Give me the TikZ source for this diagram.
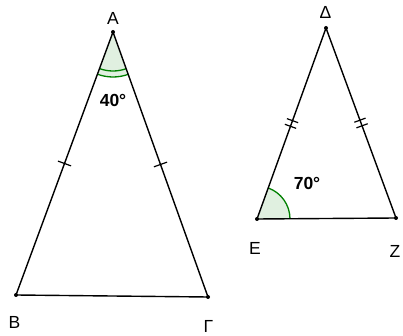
\documentclass[tikz,border=0pt]{standalone}
\usepackage{fontspec}
\setmainfont{Liberation Sans}
\usetikzlibrary{decorations.markings}
\definecolor{angfill}{RGB}{224,240,224}
\definecolor{angline}{RGB}{0,128,0}
\tikzset{
  x=1pt,y=1pt,
  side/.style={line width=1.4pt,black},
  vdot/.style={circle,fill=black,inner sep=0pt,minimum size=4pt},
  lbl/.style={font=\fontsize{17.5}{17.5}\selectfont,inner sep=0pt},
  anglbl/.style={font=\bfseries\fontsize{17.5}{17.5}\selectfont,inner sep=0pt},
  onetick/.style={postaction={decorate,decoration={markings,
    mark=at position 0.5 with {\draw[line width=1.2pt] (0,-7) -- (0,7);}}}},
  twotick/.style={postaction={decorate,decoration={markings,
    mark=at position 0.5 with {\draw[line width=1.2pt] (-3,-6) -- (-3,6) (3,-6) -- (3,6);}}}},
}
\begin{document}
\begin{tikzpicture}
\useasboundingbox (0,0) rectangle (403,336);
\coordinate (A) at (113,304);
\coordinate (B) at (16,41);
\coordinate (G) at (208,39);
\coordinate (D) at (326,308);
\coordinate (E) at (257,117);
\coordinate (Z) at (396,118);
% angle fills
\fill[angfill] (A) -- ++(249.8:45) arc (249.8:289.7:45) -- cycle;
\fill[angfill] (E) -- ++(0.4:33) arc (0.4:70.1:33) -- cycle;
\draw[angline,line width=1.3pt] (A) ++(249.8:39) arc (249.8:289.7:39);
\draw[angline,line width=1.3pt] (A) ++(249.8:45) arc (249.8:289.7:45);
\draw[angline,line width=1.3pt] (E) ++(0.4:33) arc (0.4:70.1:33);
% sides
\draw[side,onetick] (A) -- (B);
\draw[side,onetick] (A) -- (G);
\draw[side] (B) -- (G);
\draw[side,twotick] (D) -- (E);
\draw[side,twotick] (D) -- (Z);
\draw[side] (E) -- (Z);
% vertices
\node[vdot] (pA) at (A) {};
\node[vdot] (pB) at (B) {};
\node[vdot] (pG) at (G) {};
\node[vdot] (pD) at (D) {};
\node[vdot] (pE) at (E) {};
\node[vdot] (pZ) at (Z) {};
% labels
\node[lbl] (lA) at (113,317.5) {A};
\node[lbl] (lB) at (14.5,13.5) {B};
\node[lbl] (lG) at (208.5,9.5) {Γ};
\node[lbl] (lD) at (325.5,324) {Δ};
\node[lbl] (lE) at (255,87.5) {E};
\node[lbl] (lZ) at (395,85) {Z};
\node[anglbl] (a40) at (113,236) {40°};
\node[anglbl] (a70) at (307,152.5) {70°};
\end{tikzpicture}
\end{document}
